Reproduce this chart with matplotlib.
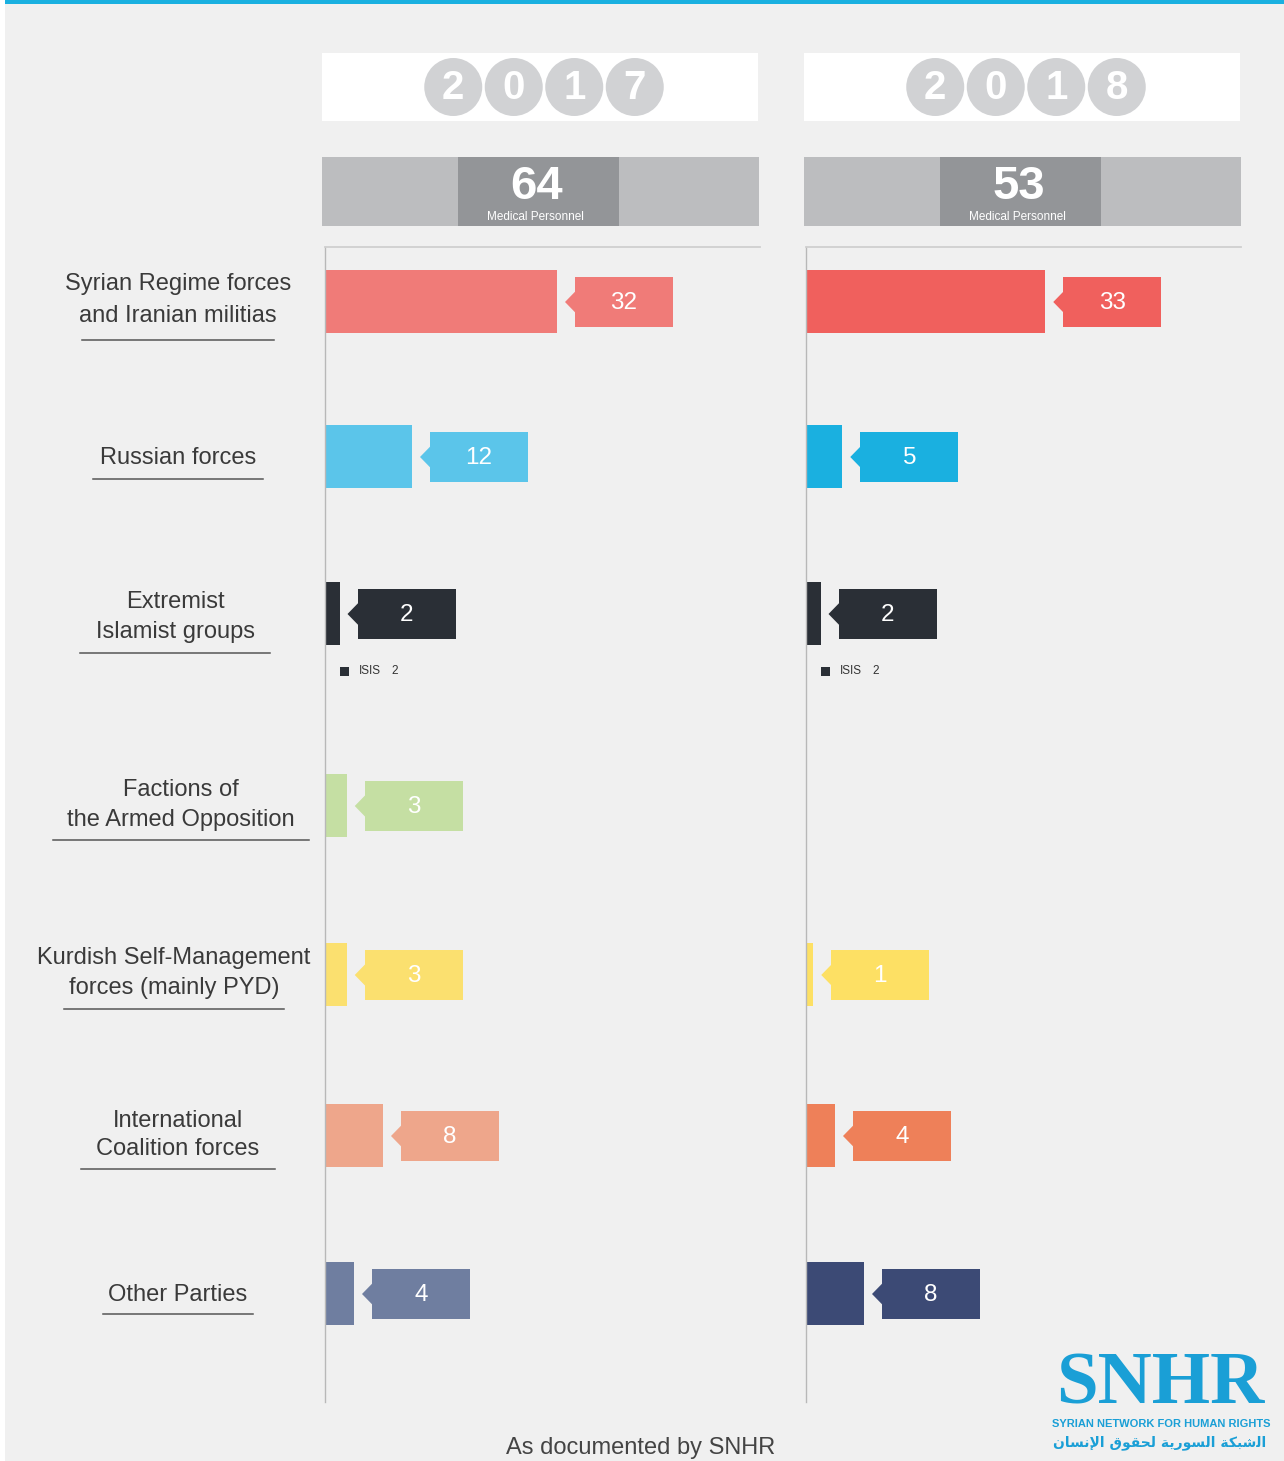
import numpy as np
import matplotlib
matplotlib.use("Agg")
import matplotlib.pyplot as plt
from matplotlib.patches import Rectangle, Circle, Polygon

# data
categories = [
    "Syrian Regime forces\nand Iranian militias",
    "Russian forces",
    "Extremist\nIslamist groups",
    "Factions of\nthe Armed Opposition",
    "Kurdish Self-Management\nforces (mainly PYD)",
    "International\nCoalition forces",
    "Other Parties",
]
years = ["2017", "2018"]
values_2017 = [32, 12, 2, 3, 3, 8, 4]
values_2018 = [33, 5, 2, 0, 1, 4, 8]
isis_2017 = 2
isis_2018 = 2
colors_2017 = ["#f07b78", "#5bc5ea", "#2a2f36", "#c5dfa3", "#fbe06f", "#eea68b", "#6f7ea0"]
colors_2018 = ["#f0605d", "#1ab0e0", "#2a2f36", "#c5dfa3", "#fde064", "#ee8059", "#3c4a75"]

# layout (pixel units of the 1284x1461 canvas)
W, H = 1284, 1461
row_centers = [302, 457, 614, 806, 975, 1136, 1294]
label_x = [178, 178, 175, 181, 174, 178, 178]
label_y = [300, 458, 617, 805, 973, 1135, 1295]
label_spacing = [1.6, 1.4, 1.45, 1.45, 1.45, 1.4, 1.4]
underline_y = [340, 479, 653, 840, 1009, 1169, 1314]
underline_half = [96, 85, 95, 128, 110, 97, 75]
PX_PER_UNIT = 7.25
panel_left = [325, 806]
header_left = [322, 804]
panel_width = 435
panel_top, panel_bottom = 247, 1402
ink = "#3a3a3a"

plt.rcParams['font.family'] = ['Liberation Sans', 'DejaVu Sans']

fig = plt.figure(figsize=(W / 100, H / 100), dpi=100)
fig.patch.set_facecolor("white")

bg = fig.add_axes([0, 0, 1, 1])
bg.set_xlim(0, W)
bg.set_ylim(H, 0)
bg.axis("off")
bg.add_patch(Rectangle((5, 0), W - 5, H, facecolor="#f0f0f0", edgecolor="none"))
bg.add_patch(Rectangle((5, 0), W - 5, 4, facecolor="#1ab0e0", edgecolor="none"))

# category labels with underlines
for cat, lx, ly, ls, uy, hw in zip(categories, label_x, label_y, label_spacing,
                                   underline_y, underline_half):
    bg.text(lx, ly, cat, ha="center", va="center", fontsize=17, color=ink,
            linespacing=ls)
    bg.plot([lx - hw, lx + hw], [uy, uy], color="#555555", lw=1.1)

# year headers and totals
totals = [sum(values_2017), sum(values_2018)]
for bx, year, total in zip(header_left, years, totals):
    bg.add_patch(Rectangle((bx, 53), 436, 68, facecolor="white", edgecolor="none"))
    gx = bx + 436 / 2 + 4
    for i, d in enumerate(year):
        cx = gx + (i - 1.5) * 60.5
        bg.add_patch(Circle((cx, 87), 29, facecolor="#d1d2d4", edgecolor="none"))
        bg.text(cx, 88, d, ha="center", va="center", fontsize=29, color="white",
                fontweight="bold")
    bg.add_patch(Rectangle((bx, 157), 437, 69, facecolor="#bcbdbf", edgecolor="none"))
    mc = bx + 216.5
    bg.add_patch(Rectangle((mc - 80.5, 157), 161, 69, facecolor="#939598", edgecolor="none"))
    bg.text(mc - 2, 187, str(total), ha="center", va="center", fontsize=34,
            color="white", fontweight="bold")
    bg.text(mc - 3, 217, "Medical Personnel", ha="center", va="center", fontsize=8.5,
            color="white")

# panels
for px, vals, cols, isis in zip(panel_left, [values_2017, values_2018],
                                [colors_2017, colors_2018], [isis_2017, isis_2018]):
    ax = fig.add_axes([px / W, (H - panel_bottom) / H, panel_width / W,
                       (panel_bottom - panel_top) / H])
    ax.set_facecolor("none")
    ax.set_xlim(0, panel_width / PX_PER_UNIT)
    ax.set_ylim(panel_bottom, panel_top)
    for s in ["right", "bottom"]:
        ax.spines[s].set_visible(False)
    ax.spines["left"].set_color("#b8b8b8")
    ax.spines["left"].set_linewidth(1.0)
    ax.spines["top"].set_color("#cfcfcf")
    ax.spines["top"].set_linewidth(1.3)
    ax.set_xticks([])
    ax.set_yticks([])

    ax.barh(row_centers, vals, height=63, color=cols, edgecolor="none")
    for v, cy, c in zip(vals, row_centers, cols):
        if v == 0:
            continue
        tip = v + 8 / PX_PER_UNIT
        x0 = v + 18 / PX_PER_UNIT
        bw = 98 / PX_PER_UNIT
        ax.add_patch(Rectangle((x0, cy - 25), bw, 50, facecolor=c, edgecolor="none"))
        ax.add_patch(Polygon([(tip, cy), (x0 + 0.1, cy - 11), (x0 + 0.1, cy + 11)],
                             closed=True, facecolor=c, edgecolor="none"))
        ax.text(x0 + bw / 2, cy + 1, str(v), ha="center", va="center", fontsize=17.5,
                color="white")

    # ISIS sub-legend under extremist row
    ly = row_centers[2] + 57
    bg.add_patch(Rectangle((px + 15, ly - 4.5), 9, 9, facecolor="#2a2f36", edgecolor="none"))
    bg.text(px + 34, ly, "ISIS", ha="left", va="center", fontsize=8.5, color="#333333")
    bg.text(px + 66, ly, str(isis), ha="left", va="center", fontsize=8.5, color="#333333")

# footer
bg.text(641, 1448, "As documented by SNHR", ha="center", va="center", fontsize=17,
        color="#444444")

# logo
blue = "#1a9fd6"
bg.text(1160, 1404, "SNHR", ha="center", va="baseline", fontsize=54, color=blue,
        family=["Liberation Serif"], fontweight="bold")
bg.text(1161, 1424, "SYRIAN NETWORK FOR HUMAN RIGHTS", ha="center", va="center",
        fontsize=8, color=blue, fontweight="bold")
arabic = ("\uFEE5\uFE8E\uFEB4\uFEE7\uFEF9\uFE8D \uFED5\uFEEE\uFED8\uFEA4\uFEDF "
          "\uFE94\uFEF3\uFEAD\uFEEE\uFEB4\uFEDF\uFE8D \uFE94\uFEDC\uFE92\uFEB7\uFEDF\uFE8D")
bg.text(1160, 1443, arabic, ha="center", va="center", fontsize=10, color=blue,
        family=["DejaVu Sans"], fontweight="bold")

fig.savefig("out.png", dpi=100)
